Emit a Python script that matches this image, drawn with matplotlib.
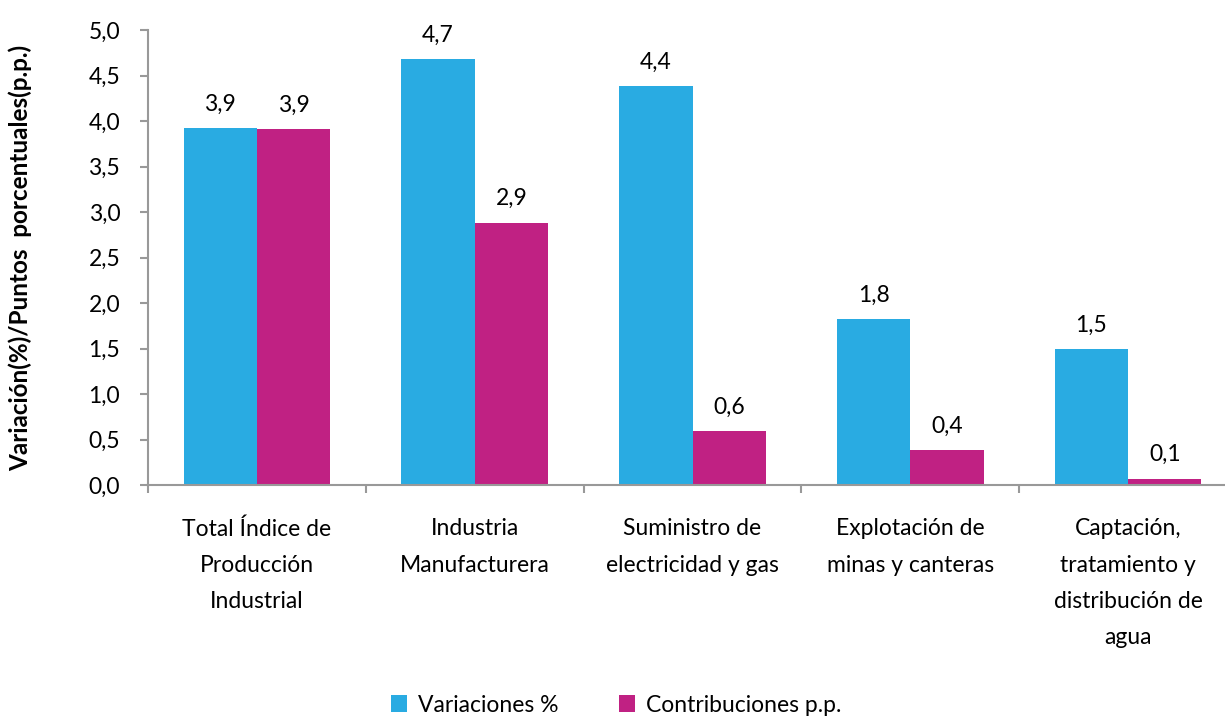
import numpy as np
import matplotlib.pyplot as plt

categories = ['Total Índice de\nProducción\nIndustrial', 'Industria\nManufacturera',
              'Suministro de\nelectricidad y gas', 'Explotación de\nminas y canteras',
              'Captación,\ntratamiento y\ndistribución de\nagua']
variaciones = [3.92, 4.68, 4.38, 1.82, 1.49]
contribuciones = [3.91, 2.88, 0.59, 0.38, 0.07]
series_names = ['Variaciones %', 'Contribuciones p.p.']

blue = '#29ABE2'
magenta = '#C02183'
gray = '#999999'
fs = 16.5

plt.rcParams['font.family'] = ['Lato', 'DejaVu Sans']

fig = plt.figure(figsize=(12.25, 7.19), dpi=100)
ax = fig.add_axes([148 / 1225, 1 - 485 / 719, 1089 / 1225, 455 / 719])

x = np.arange(len(categories))
w = 0.337
b1 = ax.bar(x - w / 2, variaciones, w, color=blue, label=series_names[0])
b2 = ax.bar(x + w / 2, contribuciones, w, color=magenta, label=series_names[1])

def fmt(v):
    return f'{v:.1f}'.replace('.', ',')

for bars, vals in ((b1, variaciones), (b2, contribuciones)):
    for rect, v in zip(bars, vals):
        ax.text(rect.get_x() + rect.get_width() / 2, v + 0.15, fmt(v),
                ha='center', va='bottom', fontsize=fs)

ax.set_xlim(-0.5, len(categories) - 0.5)
ax.set_ylim(0, 5)
ax.set_yticks(np.arange(0, 5.01, 0.5))
ax.set_yticklabels([fmt(t) for t in np.arange(0, 5.01, 0.5)], fontsize=fs)
ax.set_xticks(np.arange(-0.5, len(categories), 1))
ax.set_xticklabels([])
ax.set_xticks(x, minor=True)
ax.set_xticklabels(categories, minor=True, fontsize=fs, linespacing=1.9, va='top')
ax.tick_params(axis='x', which='minor', length=0, pad=24)
ax.tick_params(axis='both', which='major', length=6, color=gray, width=1.5, direction='out')
ax.tick_params(axis='y', pad=14)

for s in ['top', 'right']:
    ax.spines[s].set_visible(False)
for s in ['left', 'bottom']:
    ax.spines[s].set_color(gray)
    ax.spines[s].set_linewidth(1.5)

ax.set_ylabel('Variación(%)/Puntos  porcentuales(p.p.)', fontsize=17.5, fontweight='bold')
ax.yaxis.set_label_coords(-0.106, 0.5)

fig.legend(handles=[b1, b2], labels=series_names, loc='center', bbox_to_anchor=(0.503, 1 - 705 / 719),
           ncol=2, frameon=False, fontsize=fs, handlelength=0.7, handleheight=0.7,
           handletextpad=0.5, columnspacing=2.6)

fig.savefig('out.png', dpi=100)
